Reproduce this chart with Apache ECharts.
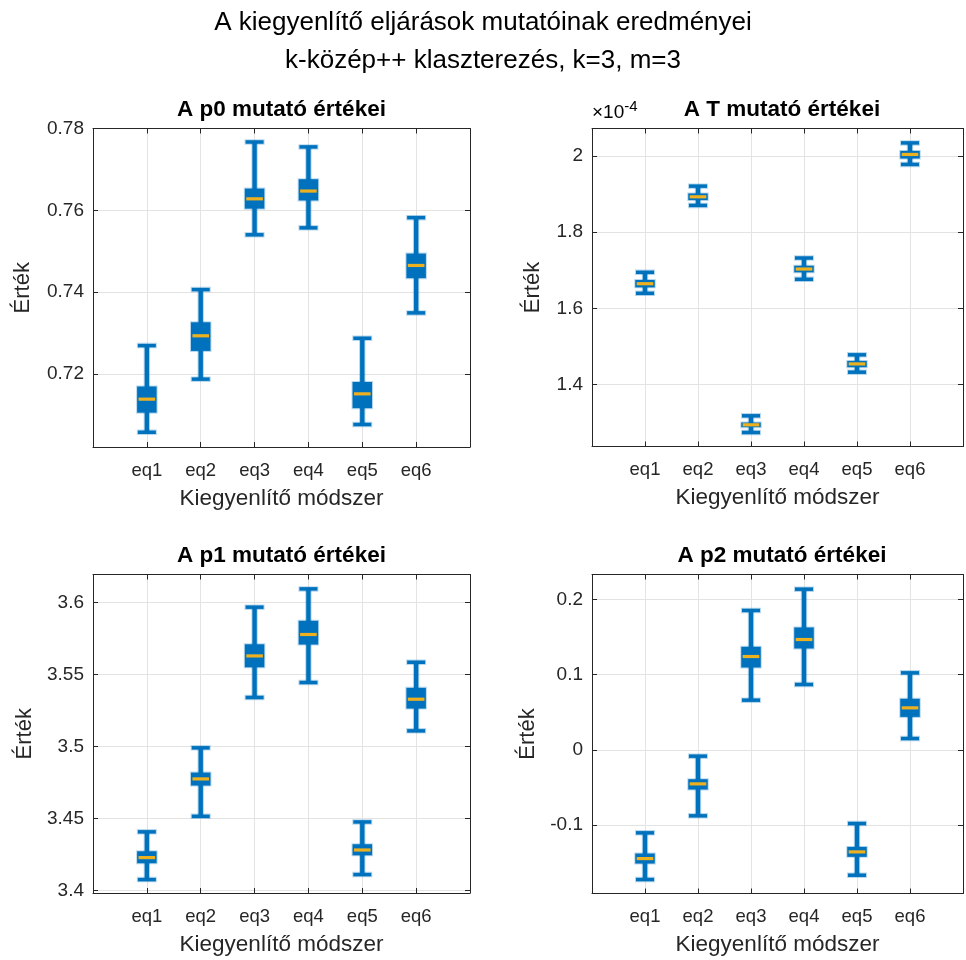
<!DOCTYPE html>
<html>
<head>
<meta charset="utf-8">
<script src="https://cdn.jsdelivr.net/npm/echarts@6/dist/echarts.min.js"></script>
<style>
html,body{margin:0;padding:0;background:#fff;}
#chart{width:966px;height:960px;}
</style>
</head>
<body>
<div id="chart"></div>
<script>
// ---- data ----
const categories = ['eq1', 'eq2', 'eq3', 'eq4', 'eq5', 'eq6'];
// each row: [lower whisker, Q1, median, Q3, upper whisker]
const p0Stats = [
  [0.7057, 0.7105, 0.7138, 0.7169, 0.7269],
  [0.7187, 0.7256, 0.7293, 0.7326, 0.7406],
  [0.7540, 0.7604, 0.7628, 0.7653, 0.7767],
  [0.7557, 0.7624, 0.7647, 0.7676, 0.7755],
  [0.7076, 0.7116, 0.7151, 0.7180, 0.7287],
  [0.7349, 0.7434, 0.7465, 0.7494, 0.7582]
];
// T values in units of 1e-4
const tStats = [
  [1.6394, 1.6550, 1.6646, 1.6743, 1.6945],
  [1.8700, 1.8840, 1.8926, 1.9014, 1.9206],
  [1.2742, 1.2883, 1.2944, 1.3004, 1.3180],
  [1.6761, 1.6945, 1.7031, 1.7118, 1.7320],
  [1.4325, 1.4456, 1.4542, 1.4620, 1.4780],
  [1.9775, 1.9930, 2.0037, 2.0130, 2.0340]
];
const p1Stats = [
  [3.4074, 3.4188, 3.4227, 3.4271, 3.4406],
  [3.4514, 3.4728, 3.4774, 3.4818, 3.4990],
  [3.5340, 3.5550, 3.5629, 3.5710, 3.5968],
  [3.5444, 3.5708, 3.5778, 3.5873, 3.6095],
  [3.4109, 3.4243, 3.4280, 3.4320, 3.4475],
  [3.5108, 3.5263, 3.5328, 3.5407, 3.5585]
];
const p2Stats = [
  [-0.1722, -0.1509, -0.1443, -0.1376, -0.1101],
  [-0.0875, -0.0525, -0.0450, -0.0388, -0.0082],
  [0.0662, 0.1096, 0.1242, 0.1371, 0.1854],
  [0.0870, 0.1349, 0.1468, 0.1628, 0.2137],
  [-0.1664, -0.1420, -0.1354, -0.1288, -0.0977],
  [0.0152, 0.0440, 0.0560, 0.0680, 0.1025]
];
const p0Ticks = [0.72, 0.74, 0.76, 0.78];
const tTicks = [1.4, 1.6, 1.8, 2];
const p1Ticks = [3.4, 3.45, 3.5, 3.55, 3.6];
const p2Ticks = [-0.1, 0, 0.1, 0.2];
const p0Range = [0.7021, 0.78];
const tRange = [1.2375, 2.0718];
const p1Range = [3.3981, 3.6195];
const p2Range = [-0.1907, 0.2332];
const mainTitle1 = 'A kiegyenlítő eljárások mutatóinak eredményei';
const mainTitle2 = 'k-közép++ klaszterezés, k=3, m=3';
const panelTitles = ['A p0 mutató értékei', 'A T mutató értékei', 'A p1 mutató értékei', 'A p2 mutató értékei'];
const xName = 'Kiegyenlítő módszer';
const yName = 'Érték';

// ---- layout ----
const TXT = '#262626';
const GRIDC = '#e3e3e3';
const FONT = '"Liberation Sans", Arial, Helvetica, sans-serif';
const panels = [
  {stats: p0Stats, ticks: p0Ticks, range: p0Range, grid: {left: 93, top: 128.5, width: 377, height: 318.5}, nameGap: 59},
  {stats: tStats, ticks: tTicks, range: tRange, grid: {left: 592, top: 128.5, width: 380, height: 318}, nameGap: 48},
  {stats: p1Stats, ticks: p1Ticks, range: p1Range, grid: {left: 93, top: 574.5, width: 377, height: 318.5}, nameGap: 57},
  {stats: p2Stats, ticks: p2Ticks, range: p2Range, grid: {left: 592, top: 574.5, width: 380, height: 319}, nameGap: 53}
];

function renderBox(params, api) {
  const x = api.value(0);
  const lo = api.coord([x, api.value(1)]);
  const q1 = api.coord([x, api.value(2)]);
  const md = api.coord([x, api.value(3)]);
  const q3 = api.coord([x, api.value(4)]);
  const hi = api.coord([x, api.value(5)]);
  const cx = lo[0];
  const blue = '#0072BD';
  const st = {fill: blue, stroke: 'rgba(0,114,189,0.28)', lineWidth: 2};
  return {type: 'group', children: [
    {type: 'rect', shape: {x: cx - 2.2, y: hi[1], width: 4.4, height: lo[1] - hi[1]}, style: st},
    {type: 'rect', shape: {x: cx - 9, y: hi[1] - 1.75, width: 18, height: 3.5}, style: st},
    {type: 'rect', shape: {x: cx - 9, y: lo[1] - 1.75, width: 18, height: 3.5}, style: st},
    {type: 'rect', shape: {x: cx - 9.75, y: q3[1], width: 19.5, height: q1[1] - q3[1]}, style: st},
    {type: 'rect', shape: {x: cx - 8.3, y: md[1] - 1.6, width: 16.6, height: 3.2}, style: {fill: '#EDB120'}}
  ]};
}

const grids = [], xAxes = [], yAxes = [], series = [], graphics = [];
panels.forEach((p, i) => {
  grids.push(Object.assign({show: false}, p.grid));
  const xBase = {
    type: 'value', gridIndex: i, min: 0, max: 7, interval: 1,
    axisLine: {show: true, onZero: false, lineStyle: {color: TXT, width: 1}},
    axisTick: {show: true, inside: true, length: 5, lineStyle: {color: TXT}}
  };
  xAxes.push(Object.assign({}, xBase, {
    position: 'bottom',
    axisLabel: {color: TXT, fontSize: 18.5, fontFamily: FONT, margin: 14,
      formatter: v => (v >= 1 && v <= categories.length) ? categories[v - 1] : ''},
    splitLine: {show: true, lineStyle: {color: GRIDC, width: 1}},
    name: xName, nameLocation: 'middle', nameGap: 40,
    nameTextStyle: {color: TXT, fontSize: 22.5, fontFamily: FONT}
  }));
  xAxes.push(Object.assign({}, xBase, {
    position: 'top', axisLabel: {show: false}, splitLine: {show: false}
  }));
  const yBase = {
    type: 'value', gridIndex: i, min: p.range[0], max: p.range[1],
    axisLine: {show: true, onZero: false, lineStyle: {color: TXT, width: 1}},
    axisTick: {show: true, inside: true, length: 5, customValues: p.ticks, lineStyle: {color: TXT}}
  };
  yAxes.push(Object.assign({}, yBase, {
    position: 'left',
    axisLabel: {color: TXT, fontSize: 19, fontFamily: FONT, margin: 9, customValues: p.ticks,
      formatter: v => String(v)},
    splitLine: {show: true, lineStyle: {color: GRIDC, width: 1}},
    name: yName, nameLocation: 'middle', nameGap: p.nameGap, nameRotate: 90,
    nameTextStyle: {color: TXT, fontSize: 22, fontFamily: FONT}
  }));
  yAxes.push(Object.assign({}, yBase, {
    position: 'right', axisLabel: {show: false}, splitLine: {show: false}
  }));
  series.push({
    type: 'custom', xAxisIndex: 2 * i, yAxisIndex: 2 * i,
    renderItem: renderBox,
    encode: {x: 0, y: [1, 2, 3, 4, 5]},
    data: p.stats.map((s, k) => [k + 1].concat(s)),
    z: 5
  });
  graphics.push({
    type: 'text', x: p.grid.left + p.grid.width / 2, y: p.grid.top - 19,
    style: {text: panelTitles[i], fill: '#000', font: 'bold 22.5px ' + FONT, align: 'center', verticalAlign: 'middle'}
  });
});

graphics.push({
  type: 'text', x: 483, y: 23,
  style: {text: mainTitle1, fill: '#000', font: '26px ' + FONT, align: 'center', verticalAlign: 'middle'}
});
graphics.push({
  type: 'text', x: 483, y: 61,
  style: {text: mainTitle2, fill: '#000', font: '26px ' + FONT, align: 'center', verticalAlign: 'middle'}
});
graphics.push({
  type: 'text', x: 592, y: 127,
  style: {
    rich: {b: {fontSize: 19, fontFamily: FONT, color: '#555'}, s: {fontSize: 15, fontFamily: FONT, color: '#555', padding: [0, 0, 13, 0]}},
    text: '{b|×10}{s|-4}', verticalAlign: 'bottom', align: 'left'
  }
});

const chart = echarts.init(document.getElementById('chart'), null, {renderer: 'canvas'});
chart.setOption({
  backgroundColor: '#fff',
  animation: false,
  grid: grids,
  xAxis: xAxes,
  yAxis: yAxes,
  series: series,
  graphic: graphics
});
</script>
</body>
</html>
